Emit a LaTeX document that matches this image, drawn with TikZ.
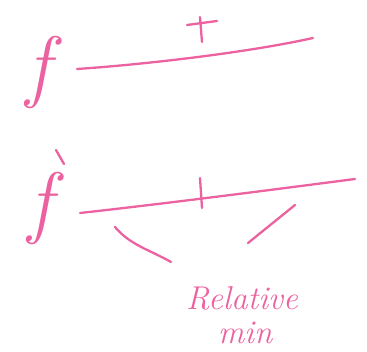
\documentclass[tikz,border=0pt]{standalone}
\definecolor{ink}{RGB}{236,98,160}
\begin{document}
\begin{tikzpicture}[x=1pt,y=-1pt,
  pen/.style={draw=ink,line width=2.3pt,line cap=round,line join=round},
  hand/.style={text=ink,font=\fontsize{33}{34}\selectfont\itshape,inner sep=0pt}]
\useasboundingbox (0,0) rectangle (367,351);
% top row
\node[hand,font=\fontsize{80}{80}\selectfont\itshape,anchor=base] (f1) at (38,92) {f};
\draw[pen] (77,69) .. controls (150,64) and (250,52) .. (313,38);
\draw[pen] (187,25) -- (217,21);
\draw[pen] (200,17) -- (202,42);
% bottom row
\node[hand,font=\fontsize{80}{80}\selectfont\itshape,anchor=base] (f2) at (40,228) {f};
\draw[pen] (56,150) -- (64,164);
\draw[pen] (80,213) .. controls (170,203) and (270,190) .. (355,179);
\draw[pen] (200,178) -- (202,208);
\draw[pen] (115,227) .. controls (130,245) and (150,250) .. (171,262);
\draw[pen] (295,205) -- (248,243);
% label
\node[hand,anchor=base] (rel) at (242,309) {Relative};
\node[hand,anchor=base] (mn) at (245,343) {min};
\end{tikzpicture}
\end{document}
